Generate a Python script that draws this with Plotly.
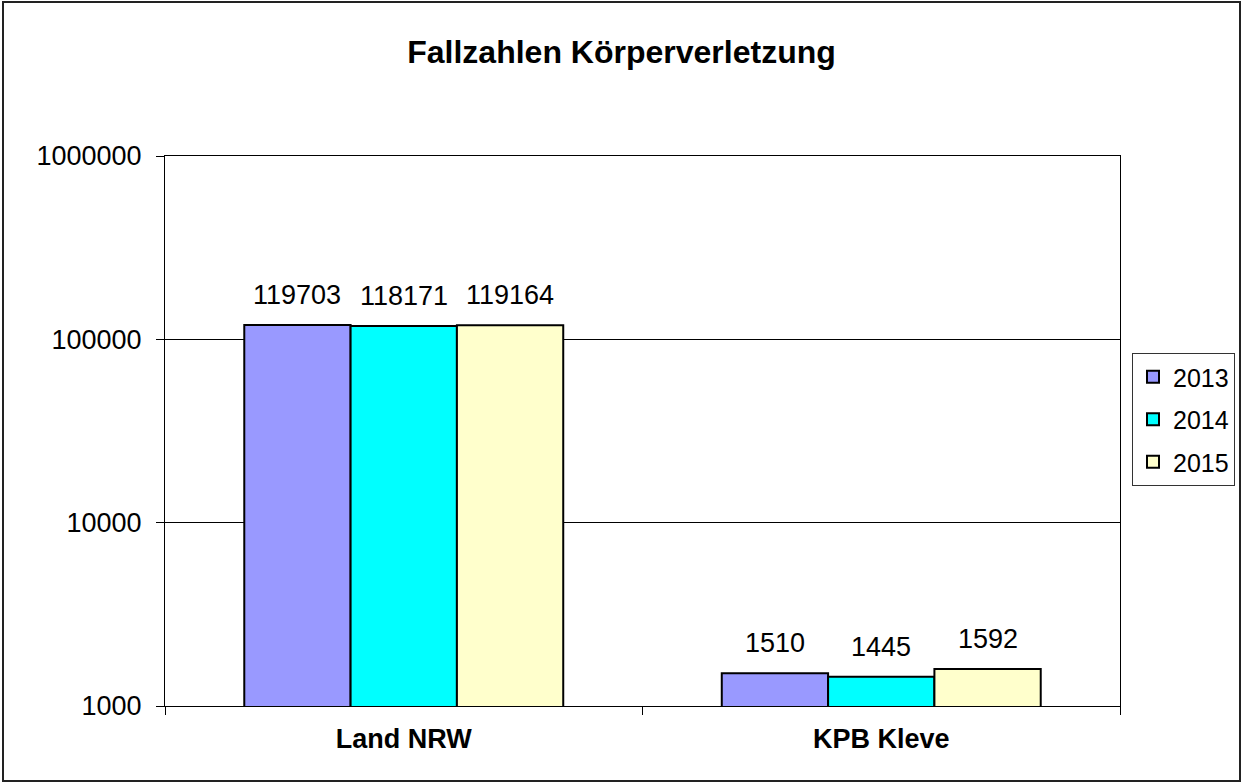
import math
import plotly.graph_objects as go

categories = ["Land NRW", "KPB Kleve"]
years = ["2013", "2014", "2015"]
values_2013 = [119703, 1510]
values_2014 = [118171, 1445]
values_2015 = [119164, 1592]
colors = ["#9999FF", "#00FFFF", "#FFFFCC"]
tick_vals = [1000, 10000, 100000, 1000000]
tick_text = ["1000", "10000", "100000", "1000000"]

FONT = "Arial, Liberation Sans, sans-serif"

W, H = 1243, 784
L, R, T, B = 165, 123, 156, 78
pw, ph = W - L - R, H - T - B
BARGAP = 0.332

def px(x):
    return (x - L) / pw

def py(y):
    return (H - B - y) / ph

fig = go.Figure()
series = [values_2013, values_2014, values_2015]
for i, (yr, vals) in enumerate(zip(years, series)):
    fig.add_trace(go.Bar(
        name=yr, x=categories, y=vals,
        marker=dict(color=colors[i], line=dict(color="black", width=2)),
        legendgroup=yr,
    ))

# data labels as annotations above each bar
bar_w = pw / len(categories) * (1 - BARGAP) / len(years)
annotations = []
for i, vals in enumerate(series):
    for c, v in zip(categories, vals):
        annotations.append(dict(
            x=c, y=math.log10(v), xref="x", yref="y", text=str(v), showarrow=False,
            xshift=(i - 1) * bar_w, yanchor="bottom", yshift=13,
            font=dict(size=27, color="black", family=FONT)))

fig.update_layout(
    width=W, height=H,
    margin=dict(l=L, r=R, t=T, b=B, autoexpand=False),
    paper_bgcolor="white", plot_bgcolor="white",
    barmode="group", bargap=BARGAP, bargroupgap=0,
    font=dict(family=FONT, color="black", size=25),
    title=dict(text="<b>Fallzahlen Körperverletzung</b>", x=0.5, xanchor="center",
               y=1 - 52 / H, yanchor="middle", font=dict(size=32, family=FONT)),
    showlegend=True,
    legend=dict(xref="container", yref="container", x=1132 / W, xanchor="left",
                y=1 - 353 / H, yanchor="top",
                bordercolor="#333333", borderwidth=1, bgcolor="white",
                font=dict(size=25, family=FONT), tracegroupgap=7,
                itemwidth=30),
    xaxis=dict(showline=True, linecolor="black", linewidth=1, mirror=True,
               ticks="outside", tickson="boundaries", ticklen=8, tickcolor="black",
               tickfont=dict(size=27, family=FONT), showgrid=False,
               ticklabelstandoff=9),
    yaxis=dict(type="log", range=[3, 6], showline=True, linecolor="black", linewidth=1,
               mirror=True, ticks="outside", ticklen=8, tickcolor="black",
               tickvals=tick_vals, ticktext=tick_text, tickfont=dict(size=27, family=FONT),
               showgrid=True, gridcolor="black", gridwidth=1, zeroline=False,
               ticklabelstandoff=9),
    annotations=annotations,
    shapes=[dict(type="rect", xref="paper", yref="paper",
                 x0=px(3), x1=px(1240), y0=py(781), y1=py(2),
                 line=dict(color="#222222", width=2), fillcolor="rgba(0,0,0,0)", layer="below")],
)
fig.update_xaxes(ticktext=["<b>Land NRW</b>", "<b>KPB Kleve</b>"], tickvals=categories)

fig.write_html("out.html", config={"displayModeBar": False},
               post_script="document.body.style.margin='0px';")
